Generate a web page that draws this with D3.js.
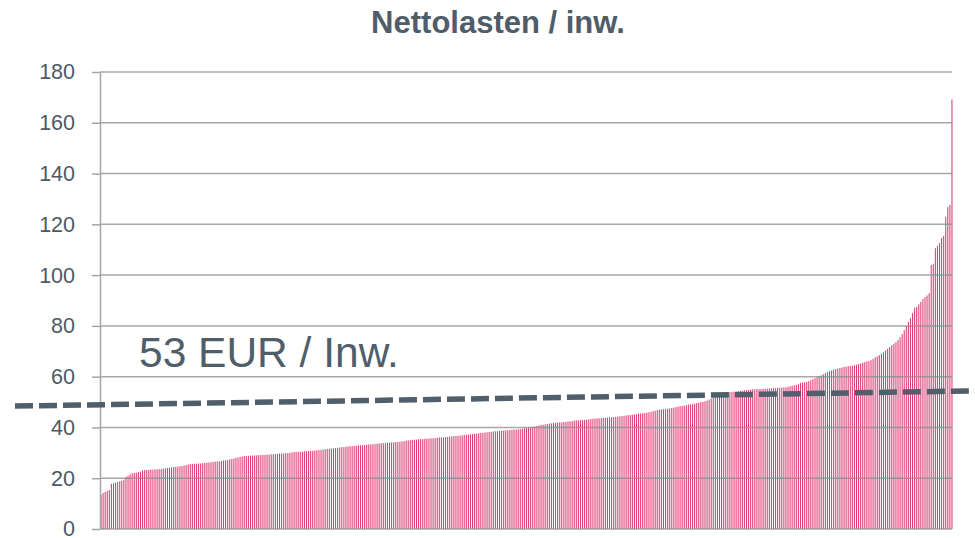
<!DOCTYPE html>
<html>
<head>
<meta charset="utf-8">
<script src="https://cdn.jsdelivr.net/npm/d3@7"></script>
<style>
  body { margin: 0; background: #fff; }
  text { font-family: "Liberation Sans", Arial, sans-serif; }
</style>
</head>
<body>
<div id="chart"></div>
<script>
// Net burden per inhabitant, one bar per municipality, sorted ascending
const values = [
  13.4, 14.2, 14.6, 15.0, 15.3, 17.8, 18.0, 18.3, 18.5, 18.8,
  19.0, 19.4, 20.5, 21.0, 21.5, 22.0, 22.1, 22.2, 22.4, 22.6,
  23.0, 23.2, 23.3, 23.3, 23.4, 23.4, 23.5, 23.5, 23.6, 23.6,
  23.8, 23.9, 24.0, 24.1, 24.3, 24.4, 24.5, 24.6, 24.7, 24.8,
  25.0, 25.2, 25.4, 25.6, 25.6, 25.7, 25.7, 25.8, 25.8, 25.9,
  26.0, 26.1, 26.2, 26.3, 26.4, 26.5, 26.6, 26.7, 26.8, 27.0,
  27.1, 27.2, 27.4, 27.6, 27.8, 28.0, 28.2, 28.4, 28.6, 28.7,
  28.8, 28.8, 28.9, 28.9, 29.0, 29.0, 29.1, 29.1, 29.2, 29.2,
  29.3, 29.3, 29.4, 29.5, 29.5, 29.6, 29.7, 29.7, 29.8, 29.9,
  29.9, 30.0, 30.2, 30.3, 30.3, 30.4, 30.4, 30.5, 30.6, 30.6,
  30.7, 30.8, 30.8, 30.9, 31.0, 31.1, 31.2, 31.3, 31.4, 31.5,
  31.6, 31.7, 31.8, 31.9, 32.0, 32.1, 32.2, 32.3, 32.4, 32.5,
  32.6, 32.6, 32.7, 32.8, 32.9, 33.0, 33.0, 33.1, 33.2, 33.3,
  33.3, 33.4, 33.5, 33.6, 33.7, 33.8, 33.8, 33.9, 34.0, 34.0,
  34.1, 34.1, 34.2, 34.3, 34.3, 34.5, 34.6, 34.8, 34.9, 35.0,
  35.1, 35.2, 35.2, 35.3, 35.4, 35.4, 35.5, 35.6, 35.6, 35.7,
  35.8, 35.8, 35.9, 36.0, 36.1, 36.1, 36.2, 36.3, 36.4, 36.5,
  36.6, 36.6, 36.7, 36.8, 36.9, 37.0, 37.1, 37.2, 37.3, 37.4,
  37.5, 37.6, 37.7, 37.8, 37.9, 38.0, 38.1, 38.2, 38.3, 38.4,
  38.5, 38.5, 38.6, 38.7, 38.8, 38.9, 38.9, 39.0, 39.1, 39.2,
  39.2, 39.3, 39.4, 39.5, 39.7, 39.8, 40.0, 40.1, 40.2, 40.4,
  40.6, 40.8, 41.0, 41.1, 41.2, 41.4, 41.5, 41.6, 41.8, 41.9,
  41.9, 42.0, 42.0, 42.1, 42.2, 42.3, 42.4, 42.5, 42.7, 42.8,
  42.8, 42.9, 42.9, 43.0, 43.1, 43.2, 43.3, 43.4, 43.5, 43.6,
  43.6, 43.7, 43.8, 43.8, 43.9, 44.0, 44.0, 44.1, 44.2, 44.3,
  44.4, 44.5, 44.6, 44.7, 44.8, 44.9, 45.0, 45.1, 45.2, 45.4,
  45.5, 45.6, 45.7, 45.8, 46.0, 46.2, 46.4, 46.6, 46.9, 47.0,
  47.1, 47.2, 47.3, 47.4, 47.5, 47.7, 47.8, 48.0, 48.2, 48.4,
  48.5, 48.6, 48.8, 49.0, 49.1, 49.2, 49.4, 49.6, 49.8, 50.0,
  50.1, 50.3, 50.6, 51.0, 51.4, 51.8, 52.2, 52.6, 53.0, 53.3,
  53.5, 53.7, 53.8, 53.9, 54.0, 54.1, 54.2, 54.3, 54.4, 54.5,
  54.6, 54.7, 54.8, 54.9, 55.0, 55.0, 55.1, 55.1, 55.2, 55.2,
  55.3, 55.3, 55.4, 55.4, 55.5, 55.5, 55.6, 55.6, 55.7, 55.8,
  55.8, 56.0, 56.2, 56.4, 56.6, 56.8, 57.0, 57.5, 57.6, 57.8,
  57.9, 58.2, 58.6, 59.0, 59.4, 59.8, 60.2, 60.6, 61.0, 61.4,
  61.8, 62.2, 62.5, 62.8, 63.0, 63.2, 63.4, 63.6, 63.8, 64.0,
  64.1, 64.2, 64.3, 64.5, 64.7, 65.0, 65.2, 65.5, 65.8, 66.0,
  66.1, 66.5, 67.0, 67.6, 68.0, 68.5, 69.0, 69.6, 70.3, 71.0,
  71.7, 72.4, 73.0, 73.6, 74.4, 75.5, 76.8, 78.3, 80.0, 81.6,
  83.0, 85.0, 87.0, 87.5, 88.5, 89.5, 90.5, 91.3, 92.0, 92.9,
  104.0, 104.5, 110.6, 111.5, 112.6, 114.6, 115.5, 123.0, 126.8, 127.6,
  169.2
];

const yTicks = [0, 20, 40, 60, 80, 100, 120, 140, 160, 180];
const title = "Nettolasten / inw.";
const avgLabel = "53 EUR / Inw.";
// the hand-drawn average line runs slightly uphill: value at left and right end
const avgLineEnds = [48.4, 54.4];

const width = 975, height = 538;
const plot = {left: 100, right: 953, top: 72, bottom: 529};

const svg = d3.select("#chart").append("svg")
    .attr("width", width)
    .attr("height", height);

const x = d3.scaleBand()
    .domain(d3.range(values.length))
    .range([plot.left, plot.right])
    .paddingInner(0.5)
    .paddingOuter(0.25);

const y = d3.scaleLinear()
    .domain([0, 180])
    .range([plot.bottom, plot.top]);

// Title
svg.append("text")
    .attr("x", 498)
    .attr("y", 33)
    .attr("text-anchor", "middle")
    .attr("font-size", 31)
    .attr("font-weight", "bold")
    .attr("fill", "#4e5d69")
    .text(title);

// Bars
svg.append("g")
  .selectAll("rect")
  .data(values)
  .join("rect")
    .attr("x", (d, i) => x(i))
    .attr("y", d => y(d))
    .attr("width", x.bandwidth())
    .attr("height", d => y(0) - y(d))
    .attr("fill", "#d8185b")
    .attr("fill-opacity", 0.85);

// Grid lines (drawn above the bars)
svg.append("g")
  .selectAll("line")
  .data(yTicks)
  .join("line")
    .attr("x1", plot.left)
    .attr("x2", plot.right - 1)
    .attr("y1", d => y(d))
    .attr("y2", d => y(d))
    .attr("stroke", "#868c91")
    .attr("stroke-opacity", 0.75)
    .attr("stroke-width", 1.5);

// Y axis
const yAxis = svg.append("g")
    .attr("transform", `translate(${plot.left},0)`)
    .call(d3.axisLeft(y).tickValues(yTicks).tickSize(8).tickSizeOuter(0).tickPadding(17));

yAxis.select(".domain")
    .attr("stroke", "#a2a6aa")
    .attr("stroke-width", 1.5);
yAxis.selectAll(".tick line")
    .attr("stroke", "#a2a6aa")
    .attr("stroke-width", 1.5);
yAxis.selectAll(".tick text")
    .attr("font-family", "'Liberation Sans', Arial, sans-serif")
    .attr("font-size", 21.5)
    .attr("fill", "#4d5a65");

// Average annotation
svg.append("line")
    .attr("x1", 15)
    .attr("x2", width)
    .attr("y1", y(avgLineEnds[0]))
    .attr("y2", y(avgLineEnds[1]))
    .attr("stroke", "#515f6a")
    .attr("stroke-width", 5.5)
    .attr("stroke-dasharray", "18,6");

svg.append("text")
    .attr("x", 139)
    .attr("y", 367)
    .attr("font-size", 42.5)
    .attr("fill", "#505e6a")
    .text(avgLabel);
</script>
</body>
</html>
